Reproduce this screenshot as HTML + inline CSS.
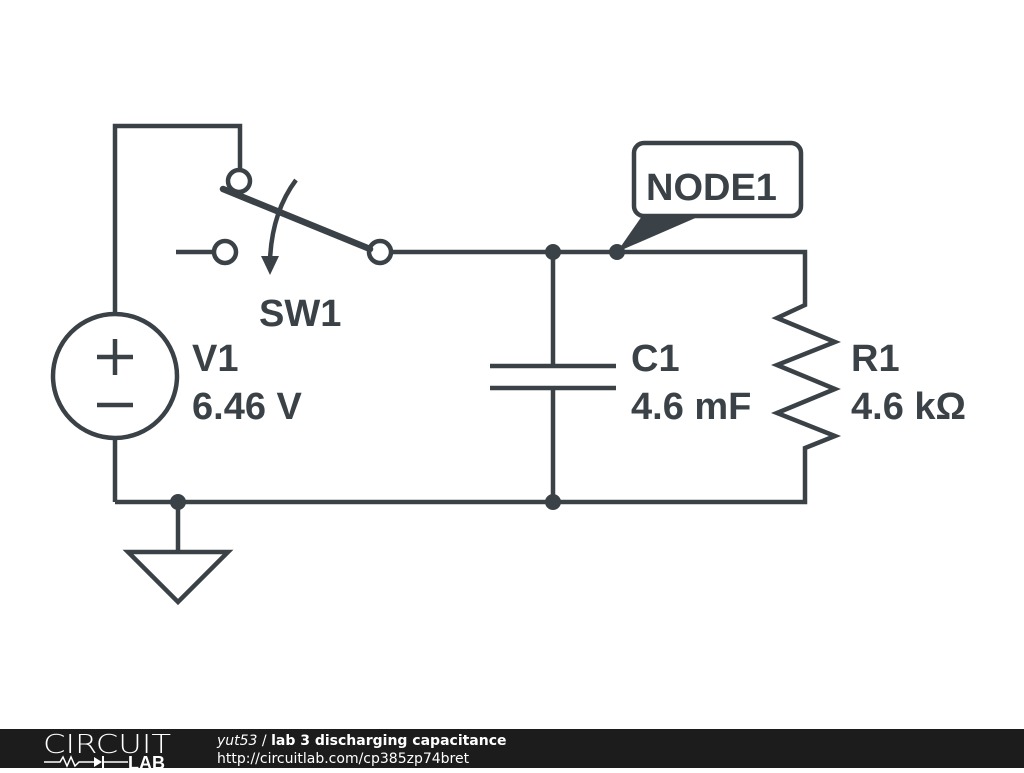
<!DOCTYPE html>
<html><head><style>
body{margin:0;width:1024px;height:768px;overflow:hidden;background:#fff;font-family:"Liberation Sans",sans-serif}
</style></head><body>
<svg width="1024" height="768" viewBox="0 0 1024 768" xmlns="http://www.w3.org/2000/svg">
<g fill="none" stroke="#3b4247" stroke-width="4.5" stroke-linejoin="miter">
<polyline points="115,314 115,126 240,126 240,170"/>
<line x1="115" y1="438" x2="115" y2="502"/>
<polyline points="115,502 805,502 805,448 835,436 777,413 835,389 777,365 835,342 777,318 805,305 805,252 392,252"/>
<circle cx="115" cy="376" r="62"/>
<line x1="97" y1="357" x2="133" y2="357"/><line x1="115" y1="339" x2="115" y2="375"/>
<line x1="97" y1="405" x2="133" y2="405"/>
<circle cx="239" cy="181" r="11"/>
<circle cx="225" cy="252" r="11"/>
<line x1="176" y1="252" x2="214" y2="252"/>
<circle cx="380" cy="252" r="11"/>
<line x1="223" y1="189" x2="370" y2="249" stroke-width="6.5" stroke-linecap="round"/>
<path d="M296,180 Q272,212 270,260"/>
<line x1="553" y1="252" x2="553" y2="366"/>
<line x1="553" y1="388" x2="553" y2="502"/>
<line x1="490" y1="366" x2="616" y2="366"/>
<line x1="490" y1="388" x2="616" y2="388"/>
<line x1="178" y1="502" x2="178" y2="552"/>
<polygon points="128,552 228,552 178,602"/>
<rect x="634" y="143" width="167" height="73" rx="10"/>
</g>
<g fill="#3b4247">
<polygon points="261,256 279,256 270,275"/>
<circle cx="553" cy="252" r="8"/><circle cx="617" cy="252" r="8"/>
<circle cx="553" cy="502" r="8"/><circle cx="178" cy="502" r="8"/>
<polygon points="642,216 700,216 617,252"/>
</g>
<g fill="#3b4247" font-family="Liberation Sans,sans-serif" font-weight="bold" font-size="38">
<text x="646" y="200">NODE1</text>
<text x="259" y="326">SW1</text>
<text x="192" y="371">V1</text><text x="192" y="419">6.46 V</text>
<text x="631" y="371">C1</text><text x="631" y="419">4.6 mF</text>
<text x="851" y="371">R1</text><text x="851" y="419">4.6 kΩ</text>
</g>
<rect x="0" y="729" width="1024" height="39" fill="#1c1c1c"/>
<text x="43" y="753" fill="#fff" font-size="26" font-family="DejaVu Sans,sans-serif" font-weight="200" textLength="128" lengthAdjust="spacingAndGlyphs">CIRCUIT</text>
<polyline points="44,762 60,762 63,757 67,766 71,757 75,766 79,762 94,762" fill="none" stroke="#fff" stroke-width="1.5"/>
<polygon points="94,757 94,767 102,762" fill="#fff"/><line x1="103" y1="756" x2="103" y2="768" stroke="#fff" stroke-width="2"/>
<line x1="103" y1="762" x2="128" y2="762" stroke="#fff" stroke-width="1.5"/>
<text x="128" y="769" fill="#fff" font-size="18" font-weight="bold" font-family="Liberation Sans,sans-serif">LAB</text>
<text x="217" y="745" fill="#fff" font-size="14" font-family="DejaVu Sans,sans-serif"><tspan font-style="italic">yut53</tspan> / <tspan font-weight="bold">lab 3 discharging capacitance</tspan></text>
<text x="217" y="763" fill="#fff" font-size="14" font-family="DejaVu Sans,sans-serif">http://circuitlab.com/cp385zp74bret</text>
</svg>
</body></html>
